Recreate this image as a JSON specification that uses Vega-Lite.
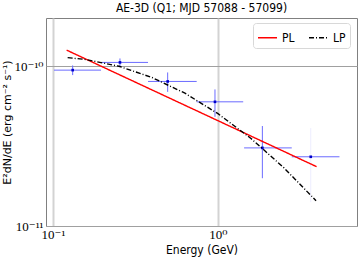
{
  "$schema": "https://vega.github.io/schema/vega-lite/v6.json",
  "width": 311,
  "height": 208,
  "autosize": "none",
  "padding": {"left": 46, "top": 18, "right": 3, "bottom": 37},
  "title": {"text": "AE-3D (Q1; MJD 57088 - 57099)", "font": "DejaVu Sans Condensed, Liberation Sans Narrow, DejaVu Sans", "fontSize": 12, "fontWeight": "normal", "color": "#000000", "offset": 3, "anchor": "middle"},
  "config": {
    "view": {"stroke": "#808080", "strokeWidth": 1},
    "background": "white"
  },
  "datasets": {
    "points": [
      {"E": 0.1316, "Elo": 0.1014, "Ehi": 0.1955, "F": 9.44e-11, "Flo": 8.79e-11, "Fhi": 1.01e-10, "significant": "yes"},
      {"E": 0.2546, "Elo": 0.1955, "Ehi": 0.3767, "F": 1.055e-10, "Flo": 9.9e-11, "Fhi": 1.117e-10, "significant": "yes"},
      {"E": 0.4955, "Elo": 0.3767, "Ehi": 0.743, "F": 8.02e-11, "Flo": 6.9e-11, "Fhi": 9.13e-11, "significant": "yes"},
      {"E": 0.959, "Elo": 0.743, "Ehi": 1.422, "F": 5.98e-11, "Flo": 4.82e-11, "Fhi": 7.15e-11, "significant": "yes"},
      {"E": 1.858, "Elo": 1.44, "Ehi": 2.8, "F": 3.08e-11, "Flo": 1.99e-11, "Fhi": 4.22e-11, "significant": "yes"},
      {"E": 3.65, "Elo": 2.8, "Ehi": 5.45, "F": 2.71e-11, "Flo": 1.41e-11, "Fhi": 4.1e-11, "significant": "no"}
    ],
    "models": [
      {"model": "PL", "E": 0.121, "F": 1.259e-10},
      {"model": "PL", "E": 3.96, "F": 2.35e-11},
      {"model": "LP", "E": 0.1227, "F": 1.13e-10},
      {"model": "LP", "E": 0.1585, "F": 1.10e-10},
      {"model": "LP", "E": 0.2512, "F": 0.998e-10},
      {"model": "LP", "E": 0.3981, "F": 8.49e-11},
      {"model": "LP", "E": 0.631, "F": 6.77e-11},
      {"model": "LP", "E": 1.0, "F": 5.04e-11},
      {"model": "LP", "E": 1.585, "F": 3.53e-11},
      {"model": "LP", "E": 2.512, "F": 2.31e-11},
      {"model": "LP", "E": 3.93, "F": 1.44e-11}
    ]
  },
  "layer": [
    {
      "data": {"name": "points"},
      "mark": {"type": "rule", "color": "#6b6bff", "strokeWidth": 1},
      "encoding": {
        "x": {"field": "Elo", "type": "quantitative", "scale": {"type": "log", "domain": [0.0907, 6.96], "nice": false},
          "axis": {"values": [0.1, 1], "labelExpr": "datum.value < 0.5 ? '10⁻¹' : '10⁰'", "labelFont": "Liberation Serif, DejaVu Serif", "labelFontSize": 13, "labelColor": "#000000", "labelPadding": 2, "ticks": false, "domain": false,
            "grid": true, "gridColor": "#d3d3d3", "gridWidth": 2,
            "title": "Energy (GeV)", "titleFont": "DejaVu Sans Condensed, Liberation Sans Narrow, DejaVu Sans", "titleFontSize": 12, "titleFontWeight": "normal", "titleColor": "#000000", "titlePadding": 3}},
        "x2": {"field": "Ehi"},
        "y": {"field": "F", "type": "quantitative", "scale": {"type": "log", "domain": [1e-11, 2.0e-10], "nice": false},
          "axis": {"values": [1e-11, 1e-10], "labelExpr": "datum.value < 5e-11 ? '10⁻¹¹' : '10⁻¹⁰'", "labelFont": "Liberation Serif, DejaVu Serif", "labelFontSize": 13, "labelColor": "#000000", "labelPadding": 3, "ticks": false, "domain": false,
            "grid": true, "gridColor": "#a0a0a0", "gridWidth": 1,
            "title": "E²dN/dE (erg cm⁻² s⁻¹)", "titleFont": "DejaVu Sans", "titleFontSize": 11, "titleFontWeight": "normal", "titleColor": "#000000", "titlePadding": 2}}
      }
    },
    {
      "data": {"name": "points"},
      "mark": {"type": "rule", "color": "#6b6bff", "strokeWidth": 1},
      "encoding": {
        "x": {"field": "E", "type": "quantitative"},
        "y": {"field": "Flo", "type": "quantitative"},
        "y2": {"field": "Fhi"},
        "opacity": {"field": "significant", "type": "nominal", "scale": {"domain": ["yes", "no"], "range": [1, 0.12]}, "legend": null}
      }
    },
    {
      "data": {"name": "points"},
      "mark": {"type": "point", "filled": true, "shape": "square", "size": 7, "color": "#0000cc", "opacity": 1},
      "encoding": {
        "x": {"field": "E", "type": "quantitative"},
        "y": {"field": "F", "type": "quantitative"}
      }
    },
    {
      "data": {"name": "models"},
      "mark": {"type": "line", "strokeWidth": 1.4},
      "encoding": {
        "x": {"field": "E", "type": "quantitative"},
        "y": {"field": "F", "type": "quantitative"},
        "color": {"field": "model", "type": "nominal", "scale": {"domain": ["PL", "LP"], "range": ["#ff0000", "#000000"]},
          "legend": {"title": null, "orient": "none", "legendX": 207, "legendY": 5, "direction": "horizontal", "symbolType": "stroke", "symbolSize": 361, "symbolStrokeWidth": 1.4,
            "labelFont": "DejaVu Sans Condensed, Liberation Sans Narrow, DejaVu Sans", "labelFontSize": 12, "labelColor": "#000000", "labelOffset": 4, "columnPadding": 11, "padding": 4,
            "strokeColor": "#d8d8d8", "fillColor": "white", "cornerRadius": 3}},
        "strokeDash": {"field": "model", "type": "nominal", "scale": {"domain": ["PL", "LP"], "range": [[1, 0], [5, 2, 1, 2]]}}
      }
    }
  ]
}
